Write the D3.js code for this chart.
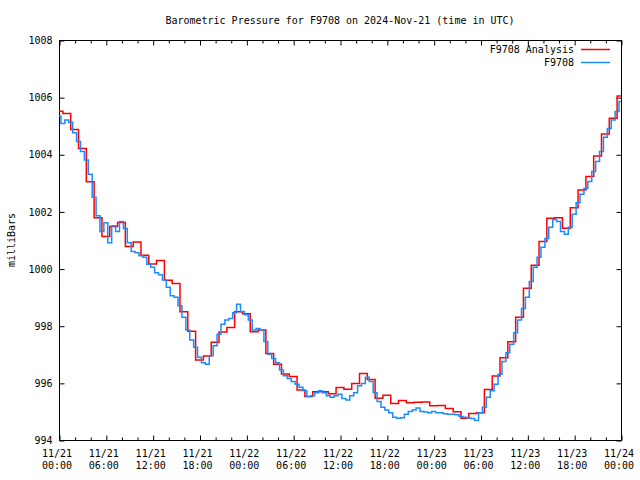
<!DOCTYPE html>
<html><head><meta charset="utf-8">
<script src="https://cdn.jsdelivr.net/npm/d3@7"></script>
<style>
body{margin:0;background:#fff;}
text{font-family:"DejaVu Sans Mono",monospace;font-size:10px;fill:#000;}
</style></head>
<body><svg id="c" width="640" height="480"></svg>
<script>
// hours since 2024-11-21 00:00 UTC
const analysisHours = d3.range(0, 73, 1);
const analysisValues = [
1005.51,1005.43,1004.87,1004.20,1003.04,1001.78,1001.12,1001.47,1001.61,1000.77,
1000.93,1000.47,1000.16,1000.28,999.59,999.48,998.49,997.81,996.80,996.94,
997.42,997.78,997.94,998.49,998.42,997.79,997.85,997.03,996.65,996.31,
996.22,995.75,995.52,995.69,995.69,995.62,995.84,995.78,995.98,996.33,
996.12,995.46,995.57,995.28,995.38,995.30,995.32,995.33,995.20,995.21,
995.10,994.99,994.76,994.93,994.95,995.77,996.24,996.88,997.44,998.30,
999.31,1000.12,1000.95,1001.76,1001.78,1001.41,1002.13,1002.75,1003.22,1003.94,
1004.71,1005.26,1006.04];
const obsHours = d3.range(0, 72.01, 0.5);
const obsValues = [
1005.34,1005.08,1005.20,1005.12,1004.75,1004.45,1004.10,1003.80,1003.30,1002.50,
1001.85,1001.30,1001.60,1000.90,1001.50,1001.30,1001.65,1001.40,1000.90,1000.60,
1000.55,1000.45,1000.40,1000.15,1000.05,999.85,999.78,999.60,999.35,999.05,
999.00,998.70,998.30,997.85,997.50,997.25,996.90,996.70,996.65,996.95,
997.30,997.70,998.05,998.20,998.25,998.45,998.75,998.50,998.38,998.20,
997.85,997.90,997.85,997.45,997.00,996.85,996.70,996.45,996.25,996.15,
996.05,995.95,995.85,995.72,995.52,995.55,995.65,995.72,995.65,995.55,
995.50,995.55,995.60,995.45,995.40,995.55,995.65,995.90,995.98,996.20,
996.05,995.65,995.35,995.15,995.05,994.95,994.80,994.76,994.78,994.90,
995.00,995.05,995.12,995.00,994.98,994.95,995.00,994.95,994.95,994.92,
994.90,994.90,994.88,994.82,994.80,994.77,994.75,994.68,994.95,995.15,
995.50,995.72,995.95,996.30,996.75,997.05,997.35,997.75,998.20,998.60,
999.00,999.55,1000.05,1000.40,1000.75,1001.05,1001.45,1001.72,1001.65,1001.30,
1001.20,1001.45,1001.90,1002.30,1002.60,1002.80,1003.05,1003.40,1003.75,1004.10,
1004.60,1004.90,1005.20,1005.50,1005.85];
const majorTicks = d3.range(0, 73, 6);
const minorTicks = d3.range(0, 73, 2).filter(h => h % 6 !== 0);
const tickDates = ["11/21","11/21","11/21","11/21","11/22","11/22","11/22","11/22","11/23","11/23","11/23","11/23","11/24"];
const tickTimes = ["00:00","06:00","12:00","18:00","00:00","06:00","12:00","18:00","00:00","06:00","12:00","18:00","00:00"];
const yTicks = d3.range(994, 1009, 2);
const seriesNames = ["F9708 Analysis", "F9708"];
const seriesColors = ["#ff0000", "#1a8cff"];
const titleText = "Barometric Pressure for F9708 on 2024-Nov-21 (time in UTC)";
const yLabel = "milliBars";

const L = 59, R = 621, T = 40, B = 440;
const svg = d3.select("#c");
const g = svg.append("g").attr("transform", "translate(0.5,0.5)");
const x = d3.scaleLinear().domain([0, 72]).range([L, R]);
const y = d3.scaleLinear().domain([994, 1008]).range([B, T]);

// axes ticks
g.append("g").attr("transform", `translate(0,${B})`)
  .call(d3.axisBottom(x).tickValues(minorTicks).tickSize(-3).tickFormat(""));
g.append("g").attr("transform", `translate(0,${B})`)
  .call(d3.axisBottom(x).tickValues(majorTicks).tickSize(-5).tickFormat(""));
g.append("g").attr("transform", `translate(0,${T})`)
  .call(d3.axisTop(x).tickValues(minorTicks).tickSize(-3).tickFormat(""));
g.append("g").attr("transform", `translate(0,${T})`)
  .call(d3.axisTop(x).tickValues(majorTicks).tickSize(-5).tickFormat(""));
const yl = g.append("g").attr("transform", `translate(${L},0)`)
  .call(d3.axisLeft(y).tickValues(yTicks).tickSize(-5).tickPadding(7).tickFormat(d3.format("d")));
g.append("g").attr("transform", `translate(${R},0)`)
  .call(d3.axisRight(y).tickValues(yTicks).tickSize(-5).tickFormat(""));
g.selectAll(".domain").remove();
g.selectAll(".tick line").attr("stroke", "#000");
yl.selectAll("text").attr("font-family", "DejaVu Sans Mono").attr("font-size", 10).attr("fill", "#000");

// x labels
const xl = svg.append("g");
majorTicks.forEach((h, i) => {
  const t = xl.append("text").attr("text-anchor", "middle").attr("x", x(h) - 2);
  t.append("tspan").attr("x", x(h) - 2).attr("y", 457).text(tickDates[i]);
  t.append("tspan").attr("x", x(h) - 2).attr("y", 469).text(tickTimes[i]);
});

// frame
g.append("rect").attr("x", L).attr("y", T).attr("width", R - L).attr("height", B - T)
  .attr("fill", "none").attr("stroke", "#000");

// lines
const redLine = d3.line().x((d, i) => x(analysisHours[i])).y(d => y(d)).curve(d3.curveStep);
const blueLine = d3.line().x((d, i) => x(obsHours[i])).y(d => y(d)).curve(d3.curveStep);
svg.append("path").datum(analysisValues).attr("d", redLine)
  .attr("fill", "none").attr("stroke", seriesColors[0]).attr("stroke-width", 1.5);
svg.append("path").datum(obsValues).attr("d", blueLine)
  .attr("fill", "none").attr("stroke", seriesColors[1]).attr("stroke-width", 1.5);

// legend
[0, 1].forEach(i => {
  const ly = 49 + i * 13;
  svg.append("text").attr("x", 574).attr("y", ly + 3.5).attr("text-anchor", "end").text(seriesNames[i]);
  svg.append("line").attr("x1", 581).attr("x2", 610).attr("y1", ly + 0.5).attr("y2", ly + 0.5)
    .attr("stroke", seriesColors[i]).attr("stroke-width", 1.5);
});

// title & y label
svg.append("text").attr("x", 340).attr("y", 23.5).attr("text-anchor", "middle").text(titleText);
svg.append("text").attr("transform", "translate(15,240) rotate(-90)").attr("text-anchor", "middle").text(yLabel);
</script></body></html>
